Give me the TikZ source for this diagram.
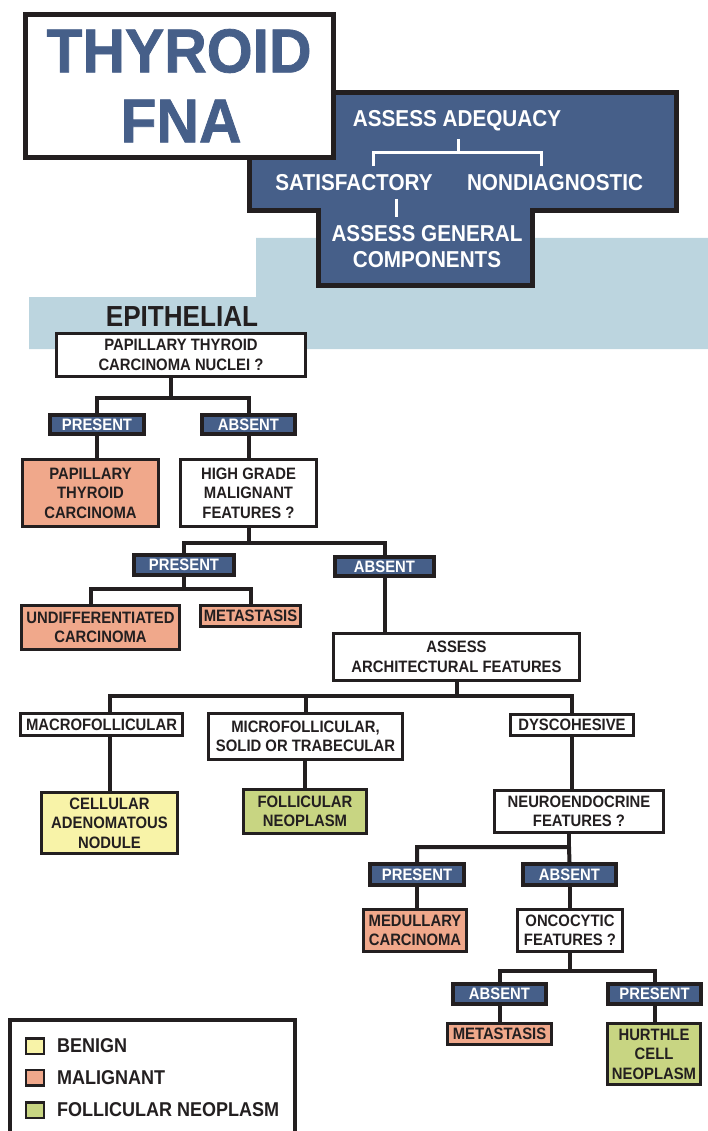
\documentclass[tikz,border=0pt]{standalone}
\usepackage{fontspec}
\setmainfont{Liberation Sans}
\newfontfamily\boxfont{Liberation Sans}[FakeStretch=0.9]
\newfontfamily\titlefont{Liberation Sans}[FakeStretch=0.95,FakeBold=1.2]
\definecolor{fnablue}{HTML}{465F89}
\definecolor{band}{HTML}{BCD5DF}
\definecolor{malc}{HTML}{F0A88B}
\definecolor{benc}{HTML}{F8F3A8}
\definecolor{folc}{HTML}{C8D582}
\definecolor{txt}{HTML}{231F20}
\tikzset{
  box/.style={draw=txt, line width=3pt, fill=white, inner sep=0pt, align=center,
    font=\boxfont\bfseries\fontsize{16.5}{19.5}\selectfont, text=txt},
  lab/.style={box, fill=fnablue, text=white, line width=3.5pt},
  mal/.style={box, fill=malc},
  ben/.style={box, fill=benc},
  fol/.style={box, fill=folc},
  conn/.style={draw=txt, line width=4pt},
  wline/.style={draw=white, line width=3pt},
  wtext/.style={text=white, inner sep=0pt, font=\boxfont\bfseries\fontsize{23}{26}\selectfont},
  legsq/.style={draw=txt, line width=2.5pt, minimum width=18pt, minimum height=15.5pt, inner sep=0pt},
  legtxt/.style={text=txt, anchor=west, inner sep=0pt, font=\boxfont\bfseries\fontsize{20}{20}\selectfont},
}
\begin{document}
\begin{tikzpicture}[x=1pt,y=-1pt]
\useasboundingbox (0,0) rectangle (708,1131);
% light band
\fill[band] (256,238) -- (708,238) -- (708,349) -- (29,349) -- (29,297) -- (256,297) -- cycle;
% blue cross shape
\draw[fill=fnablue, draw=txt, line width=5pt] (249.5,92.5) -- (676.5,92.5) -- (676.5,210.5) -- (532.5,210.5) -- (532.5,285.5) -- (318.5,285.5) -- (318.5,210.5) -- (249.5,210.5) -- cycle;
% title box
\node[draw=txt, line width=5pt, fill=white, minimum width=308pt, minimum height=143pt, inner sep=0pt] (title) at (179.5,86) {};
\node[text=fnablue, inner sep=0pt, font=\titlefont\bfseries\fontsize{62}{62}\selectfont] (thy) at (179,51) {THYROID};
\node[text=fnablue, inner sep=0pt, font=\titlefont\bfseries\fontsize{62}{62}\selectfont] (fna) at (181,121) {FNA};
% texts in blue shape
\node[wtext] (adeq) at (457,121) {ASSESS ADEQUACY};
\node[wtext] (sat) at (354,183) {SATISFACTORY};
\node[wtext] (nond) at (555,183) {NONDIAGNOSTIC};
\node[wtext] (gen) at (427,249) {\begin{tabular}{@{}c@{}}ASSESS GENERAL\\[0pt]COMPONENTS\end{tabular}};
\coordinate (wj) at (458,153);
\coordinate (wl) at (373,166);
\coordinate (wr) at (541,166);
\coordinate (wa) at (458,139);
\coordinate (ws1) at (396,199);
\coordinate (ws2) at (396,217);
\draw[wline] (wa) -- (wj);
\draw[wline] (wl) |- (wj) -| (wr);
\draw[wline] (ws1) -- (ws2);
% epithelial
\node[text=txt, inner sep=0pt, font=\boxfont\bfseries\fontsize{29}{29}\selectfont] (epi) at (182,317) {EPITHELIAL};

% boxes
\node[box, minimum width=249pt, minimum height=43pt] (ptc) at (181,355) {PAPILLARY THYROID\\CARCINOMA NUCLEI ?};
\node[lab, minimum width=94pt, minimum height=19pt] (pres1) at (97,424.5) {PRESENT};
\node[lab, minimum width=93pt, minimum height=19pt] (abs1) at (248.5,424.5) {ABSENT};
\node[mal, minimum width=136pt, minimum height=67pt] (papca) at (90.5,493) {PAPILLARY\\THYROID\\CARCINOMA};
\node[box, minimum width=136pt, minimum height=67pt] (hg) at (248.5,493) {HIGH GRADE\\MALIGNANT\\FEATURES ?};
\node[lab, minimum width=100pt, minimum height=20pt] (pres2) at (184,565) {PRESENT};
\node[lab, minimum width=99pt, minimum height=19pt] (abs2) at (384.5,566.5) {ABSENT};
\node[mal, minimum width=158pt, minimum height=44pt] (undiff) at (100.5,627.5) {UNDIFFERENTIATED\\CARCINOMA};
\node[mal, minimum width=100pt, minimum height=21pt] (meta1) at (250.5,616) {METASTASIS};
\node[box, minimum width=246pt, minimum height=47pt] (arch) at (456.5,657) {ASSESS\\ARCHITECTURAL FEATURES};
\node[box, minimum width=162pt, minimum height=22pt] (macro) at (101.5,724.5) {MACROFOLLICULAR};
\node[box, minimum width=194pt, minimum height=46pt] (micro) at (305.5,736.5) {MICROFOLLICULAR,\\SOLID OR TRABECULAR};
\node[box, minimum width=123pt, minimum height=21pt] (dys) at (572,725) {DYSCOHESIVE};
\node[ben, minimum width=136pt, minimum height=61pt] (cell) at (109.5,823) {CELLULAR\\ADENOMATOUS\\NODULE};
\node[fol, minimum width=123pt, minimum height=44pt] (foll) at (305,811.5) {FOLLICULAR\\NEOPLASM};
\node[box, minimum width=169pt, minimum height=42pt] (neuro) at (579,811.5) {NEUROENDOCRINE\\FEATURES ?};
\node[lab, minimum width=94pt, minimum height=21pt] (pres3) at (417,874.5) {PRESENT};
\node[lab, minimum width=93pt, minimum height=21pt] (abs3) at (569.5,874.5) {ABSENT};
\node[mal, minimum width=103pt, minimum height=42pt] (med) at (415,930.5) {MEDULLARY\\CARCINOMA};
\node[box, minimum width=105pt, minimum height=42pt] (onco) at (570,930.5) {ONCOCYTIC\\FEATURES ?};
\node[lab, minimum width=93pt, minimum height=20pt] (abs4) at (499.5,994) {ABSENT};
\node[lab, minimum width=93pt, minimum height=20pt] (pres4) at (654.5,994) {PRESENT};
\node[mal, minimum width=104pt, minimum height=21pt] (meta2) at (499.5,1034) {METASTASIS};
\node[fol, minimum width=93pt, minimum height=61pt] (hur) at (654,1054) {HURTHLE\\CELL\\NEOPLASM};

% connectors
\coordinate (j1) at (171,398);
\draw[conn] (j1 |- ptc.south) -- (j1);
\draw[conn] (pres1.north) |- (j1) -| (abs1.north);
\draw[conn] (pres1.south) -- (pres1.south |- papca.north);
\draw[conn] (abs1.south) -- (abs1.south |- hg.north);
\coordinate (j2) at (251,543);
\draw[conn] (hg.south) -- (hg.south |- j2);
\draw[conn] (pres2.north) |- (j2) -| (abs2.north);
\coordinate (j3) at (188,589);
\coordinate (u3) at (91,589);
\draw[conn] (pres2.south) -- (pres2.south |- j3);
\draw[conn] (u3 |- undiff.north) -- (u3) -| (meta1.north);
\draw[conn] (abs2.south) -- (abs2.south |- arch.north);
\coordinate (j4) at (110,696);
\draw[conn] (arch.south) -- (arch.south |- j4);
\draw[conn] (j4 |- macro.north) -- (j4) -| (dys.north);
\draw[conn] (micro.north) -- (micro.north |- j4);
\draw[conn] (cell.north |- macro.south) -- (cell.north);
\draw[conn] (foll.north |- micro.south) -- (foll.north);
\draw[conn] (dys.south) -- (dys.south |- neuro.north);
\coordinate (c5) at (569,847);
\draw[conn] (c5 |- neuro.south) -- (c5);
\draw[conn] (pres3.north) |- (c5) -- (abs3.north);
\draw[conn] (pres3.south) -- (pres3.south |- med.north);
\draw[conn] (abs3.south) -- (abs3.south |- onco.north);
\coordinate (j6) at (569,971);
\draw[conn] (onco.south) -- (onco.south |- j6);
\draw[conn] (abs4.north) |- (j6) -| (pres4.north);
\draw[conn] (abs4.south) -- (meta2.north);
\draw[conn] (pres4.south) -- (pres4.south |- hur.north);

% legend
\draw[draw=txt, line width=4pt] (9.7,1145) -- (9.7,1020.3) -- (294.6,1020.3) -- (294.6,1145);
\node[legsq, fill=benc] (lb1) at (35,1046) {};
\node[legsq, fill=malc] (lb2) at (35,1077.5) {};
\node[legsq, fill=folc] (lb3) at (35,1110) {};
\node[legtxt] (lt1) at (57,1046) {BENIGN};
\node[legtxt] (lt2) at (57,1077.5) {MALIGNANT};
\node[legtxt] (lt3) at (57,1110) {FOLLICULAR NEOPLASM};
\end{tikzpicture}
\end{document}
